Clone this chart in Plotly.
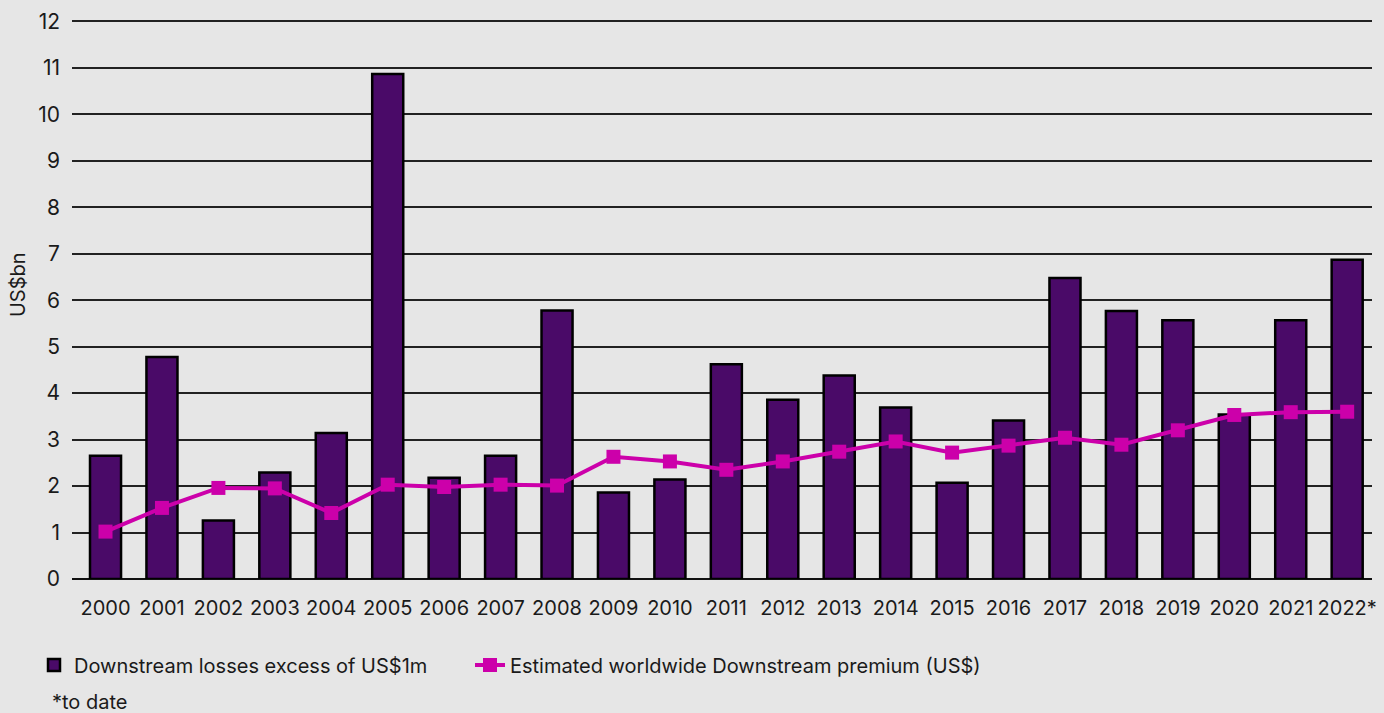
import plotly.graph_objects as go

years = ["2000", "2001", "2002", "2003", "2004", "2005", "2006", "2007", "2008", "2009", "2010", "2011",
         "2012", "2013", "2014", "2015", "2016", "2017", "2018", "2019", "2020", "2021", "2022*"]
losses = [2.65, 4.78, 1.26, 2.29, 3.14, 10.87, 2.18, 2.65, 5.78, 1.86, 2.14, 4.62,
          3.86, 4.38, 3.69, 2.07, 3.41, 6.48, 5.77, 5.57, 3.54, 5.57, 6.87]
premium = [1.02, 1.53, 1.96, 1.95, 1.42, 2.03, 1.98, 2.03, 2.01, 2.63, 2.53, 2.35,
           2.53, 2.74, 2.96, 2.72, 2.87, 3.04, 2.89, 3.20, 3.53, 3.59, 3.60]

font_family = "Inter, Roboto, 'Noto Sans', sans-serif"
idx = list(range(len(years)))

# plot area in pixels (for converting annotation positions)
YMAX = 12.03
PL, PR, PT, PB = 72, 1372, 21 - 0.03 * 46.5, 579.3
PW, PH = PR - PL, PB - PT

fig = go.Figure()
fig.add_trace(go.Bar(
    x=idx, y=losses, name="Downstream losses excess of US$1m",
    marker=dict(color="#4A0A68", line=dict(color="#000000", width=2.5)),
    width=0.55, legend="legend",
))
fig.add_trace(go.Scatter(
    x=idx, y=premium, name="Estimated worldwide Downstream premium (US$)",
    mode="lines+markers",
    line=dict(color="#CC00AA", width=4),
    marker=dict(symbol="square", size=14, color="#CC00AA"),
    legend="legend2",
))

legend_common = dict(xref="container", yref="container", xanchor="left", yanchor="middle",
                     font=dict(size=20), itemwidth=30, bgcolor="rgba(0,0,0,0)")

fig.update_layout(
    width=1384, height=713,
    paper_bgcolor="#E6E6E6", plot_bgcolor="#E6E6E6",
    margin=dict(l=PL, r=1384 - PR, t=PT, b=713 - PB, autoexpand=False),
    font=dict(family=font_family, size=20, color="#1a1a1a"),
    showlegend=True,
    legend=dict(x=34 / 1384, y=1 - 665 / 713, **legend_common),
    legend2=dict(x=470 / 1384, y=1 - 665 / 713, **legend_common),
    xaxis=dict(
        tickmode="array", tickvals=idx, ticktext=years,
        range=[-0.594, 22.44], showgrid=False, zeroline=False,
        showline=False, ticks="", tickfont=dict(size=20), tickangle=0,
        ticklabelstandoff=15, automargin=False, ticklabeloverflow="allow",
    ),
    yaxis=dict(
        range=[0, YMAX], tickvals=list(range(13)), showgrid=True,
        gridcolor="#222222", gridwidth=1.5, zeroline=True,
        zerolinecolor="#111111", zerolinewidth=2,
        showline=False, ticks="", tickfont=dict(size=21),
        ticklabelstandoff=11, automargin=False,
    ),
    annotations=[
        dict(text="US$bn", xref="paper", yref="paper",
             x=(18 - PL) / PW, y=(PB - 285) / PH,
             xanchor="center", yanchor="middle", textangle=-90,
             showarrow=False, font=dict(size=20)),
        dict(text="*to date", xref="paper", yref="paper",
             x=(50 - PL) / PW, y=(PB - 702) / PH, xanchor="left", yanchor="middle",
             showarrow=False, font=dict(size=20)),
    ],
)

fig.write_html("out.html", config={"displayModeBar": False},
               post_script="document.body.style.margin='0';")
